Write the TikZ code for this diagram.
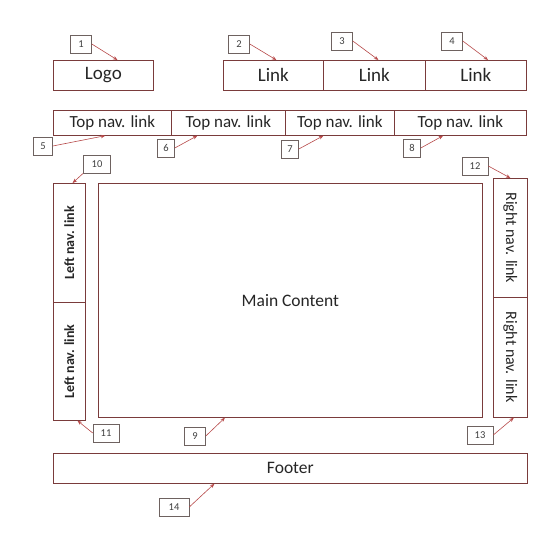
\documentclass[tikz,border=0pt]{standalone}
\usepackage{fontspec}
\setmainfont{Carlito}
\usetikzlibrary{arrows.meta,calc}
\definecolor{boxcol}{HTML}{7A3B3B}
\definecolor{arrcol}{HTML}{B84A4A}
\definecolor{tagcol}{HTML}{6E6260}
\tikzset{
  box/.style={draw=boxcol, line width=0.7pt, anchor=north west, inner sep=0pt, text=black!85},
  tag/.style={draw=tagcol, line width=0.6pt, minimum width=21pt, minimum height=18pt, inner sep=0pt, font=\fontsize{10.5}{11}\selectfont, text=black!75},
  arr/.style={draw=arrcol, line width=0.6pt, -{Stealth[length=4.5pt,width=3.5pt]}},
  hfont/.style={font=\fontsize{19}{21}\selectfont},
  nfont/.style={font=\fontsize{17}{19}\selectfont},
}
\begin{document}
\begin{tikzpicture}[x=1pt,y=-1pt]
\useasboundingbox[fill=white] (0,0) rectangle (560,537);
% header
\node[box, hfont, minimum width=100pt, minimum height=30pt] (logo) at (53,60) {Logo};
\node[box, hfont, minimum width=100pt, minimum height=30pt] (lk1) at (223,60) {Link};
\node[box, hfont, minimum width=102pt, minimum height=30pt] (lk2) at (323,60) {Link};
\node[box, hfont, minimum width=101pt, minimum height=30pt] (lk3) at (425,60) {Link};
% top nav
\node[box, nfont, minimum width=118pt, minimum height=25pt] (nv1) at (53,110) {Top nav. link};
\node[box, nfont, minimum width=114pt, minimum height=25pt] (nv2) at (171,110) {Top nav. link};
\node[box, nfont, minimum width=109pt, minimum height=25pt] (nv3) at (285,110) {Top nav. link};
\node[box, nfont, minimum width=132pt, minimum height=25pt] (nv4) at (394,110) {Top nav. link};
% left nav
\node[box, minimum width=32pt, minimum height=119pt] (ln1) at (53,183) {};
\node[box, minimum width=32pt, minimum height=118pt] (ln2) at (53,302) {};
\node[rotate=90, font=\bfseries\fontsize{14}{16}\selectfont, text=black!85] (ln1t) at (ln1.center) {Left nav. link};
\node[rotate=90, font=\bfseries\fontsize{14}{16}\selectfont, text=black!85] (ln2t) at (ln2.center) {Left nav. link};
% main
\node[box, minimum width=384pt, minimum height=234pt, font=\fontsize{17.5}{20}\selectfont] (main) at (98,183) {Main Content};
% right nav
\node[box, minimum width=34pt, minimum height=119pt] (rn1) at (493,178) {};
\node[box, minimum width=34pt, minimum height=120pt] (rn2) at (493,297) {};
\node[rotate=-90, font=\fontsize{16}{18}\selectfont, text=black!85] (rn1t) at (rn1.center) {Right nav. link};
\node[rotate=-90, font=\fontsize{16}{18}\selectfont, text=black!85] (rn2t) at (rn2.center) {Right nav. link};
% footer
\node[box, minimum width=474pt, minimum height=30pt, font=\fontsize{17.5}{20}\selectfont] (foot) at (53,453) {Footer};
% tags
\node[tag] (t1) at (81,44) {1};
\node[tag] (t2) at (239,44) {2};
\node[tag] (t3) at (342,41) {3};
\node[tag] (t4) at (452,41) {4};
\node[tag, minimum width=19pt] (t5) at (43,146) {5};
\node[tag, minimum width=17pt] (t6) at (166,148) {6};
\node[tag, minimum width=17pt] (t7) at (290,149) {7};
\node[tag, minimum width=17pt] (t8) at (412,148) {8};
\node[tag] (t9) at (195,436) {9};
\node[tag, minimum width=27pt] (t10) at (97,164) {10};
\node[tag, minimum width=26pt] (t11) at (106,433) {11};
\node[tag, minimum width=26pt] (t12) at (475,166) {12};
\node[tag, minimum width=26pt] (t13) at (480,435) {13};
\node[tag, minimum width=30pt] (t14) at (174,507) {14};
% arrows
\draw[arr] (t1.east) -- ($(logo.north west)!0.64!(logo.north east)$);
\draw[arr] (t2.east) -- ($(lk1.north west)!0.53!(lk1.north east)$);
\draw[arr] (t3.east) -- ($(lk2.north west)!0.54!(lk2.north east)$);
\draw[arr] (t4.east) -- ($(lk3.north west)!0.62!(lk3.north east)$);
\draw[arr] (t5.east) -- ($(nv1.south west)!0.44!(nv1.south east)$);
\draw[arr] (t6.east) -- ($(nv2.south west)!0.23!(nv2.south east)$);
\draw[arr] (t7.east) -- ($(nv3.south west)!0.35!(nv3.south east)$);
\draw[arr] (t8.east) -- ($(nv4.south west)!0.37!(nv4.south east)$);
\draw[arr] (t9.east) -- ($(main.south west)!0.33!(main.south east)$);
\draw[arr] (t10.south west) -- ($(ln1.north west)!0.6!(ln1.north east)$);
\draw[arr] (t11.west) -- ($(ln2.south west)!0.75!(ln2.south east)$);
\draw[arr] (t12.east) -- ($(rn1.north west)!0.5!(rn1.north east)$);
\draw[arr] (t13.east) -- ($(rn2.south west)!0.6!(rn2.south east)$);
\draw[arr] (t14.east) -- ($(foot.south west)!0.34!(foot.south east)$);
\end{tikzpicture}
\end{document}
